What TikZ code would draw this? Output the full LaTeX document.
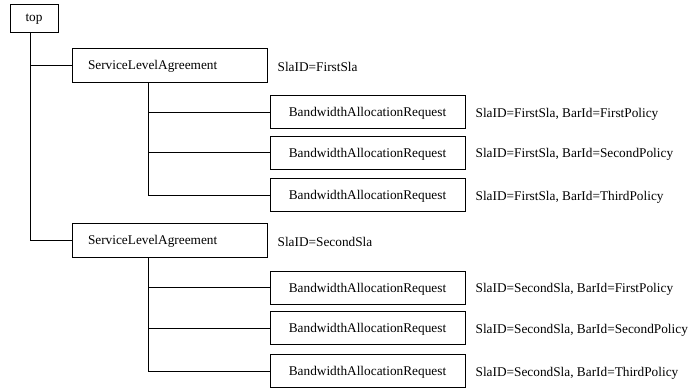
\documentclass[tikz,border=0pt]{standalone}
\usepackage{fontspec}
\setmainfont{Liberation Serif}
\begin{document}
\begin{tikzpicture}[x=1pt,y=-1pt,
  every node/.style={font=\fontsize{13.3}{15}\selectfont},
  box/.style={draw,line width=0.9pt,rectangle,inner sep=0pt,text depth=0pt},
  topbox/.style={box,minimum width=48pt,minimum height=28pt},
  slabox/.style={box,minimum height=34pt,text width=163pt,inner xsep=16pt,align=left},
  barbox/.style={box,minimum width=195pt,minimum height=33pt},
  attr/.style={anchor=west,inner sep=0pt,xshift=10pt,yshift=-2pt},
  link/.style={line width=0.9pt}]
\useasboundingbox (0,0) rectangle (690,389);

% element boxes
\node[topbox] (top) at (34,18) {top};
\node[slabox] (sla1) at (169.5,65) {ServiceLevelAgreement};
\node[barbox] (bar1) at (367.5,112) {BandwidthAllocationRequest};
\node[barbox] (bar2) at (367.5,152.5) {BandwidthAllocationRequest};
\node[barbox] (bar3) at (367.5,195) {BandwidthAllocationRequest};
\node[slabox] (sla2) at (169.5,240) {ServiceLevelAgreement};
\node[barbox] (bar4) at (367.5,287.5) {BandwidthAllocationRequest};
\node[barbox] (bar5) at (367.5,328) {BandwidthAllocationRequest};
\node[barbox] (bar6) at (367.5,371) {BandwidthAllocationRequest};

% attribute texts
\node[attr] (a1) at (sla1.east) {SlaID=FirstSla};
\node[attr] (a2) at (bar1.east) {SlaID=FirstSla, BarId=FirstPolicy};
\node[attr] (a3) at (bar2.east) {SlaID=FirstSla, BarId=SecondPolicy};
\node[attr] (a4) at (bar3.east) {SlaID=FirstSla, BarId=ThirdPolicy};
\node[attr] (a5) at (sla2.east) {SlaID=SecondSla};
\node[attr] (a6) at (bar4.east) {SlaID=SecondSla, BarId=FirstPolicy};
\node[attr] (a7) at (bar5.east) {SlaID=SecondSla, BarId=SecondPolicy};
\node[attr] (a8) at (bar6.east) {SlaID=SecondSla, BarId=ThirdPolicy};

% tree trunks
\coordinate (t0) at ([xshift=21pt]top.south west);
\coordinate (t1) at ([xshift=77pt]sla1.south west);
\coordinate (t2) at ([xshift=77pt]sla2.south west);

% connectors
\draw[link] (t0) |- (sla1.west);
\draw[link] (t0) |- (sla2.west);
\draw[link] (t1) |- (bar1.west);
\draw[link] (t1) |- (bar2.west);
\draw[link] (t1) |- (bar3.west);
\draw[link] (t2) |- (bar4.west);
\draw[link] (t2) |- (bar5.west);
\draw[link] (t2) |- (bar6.west);
\end{tikzpicture}
\end{document}
